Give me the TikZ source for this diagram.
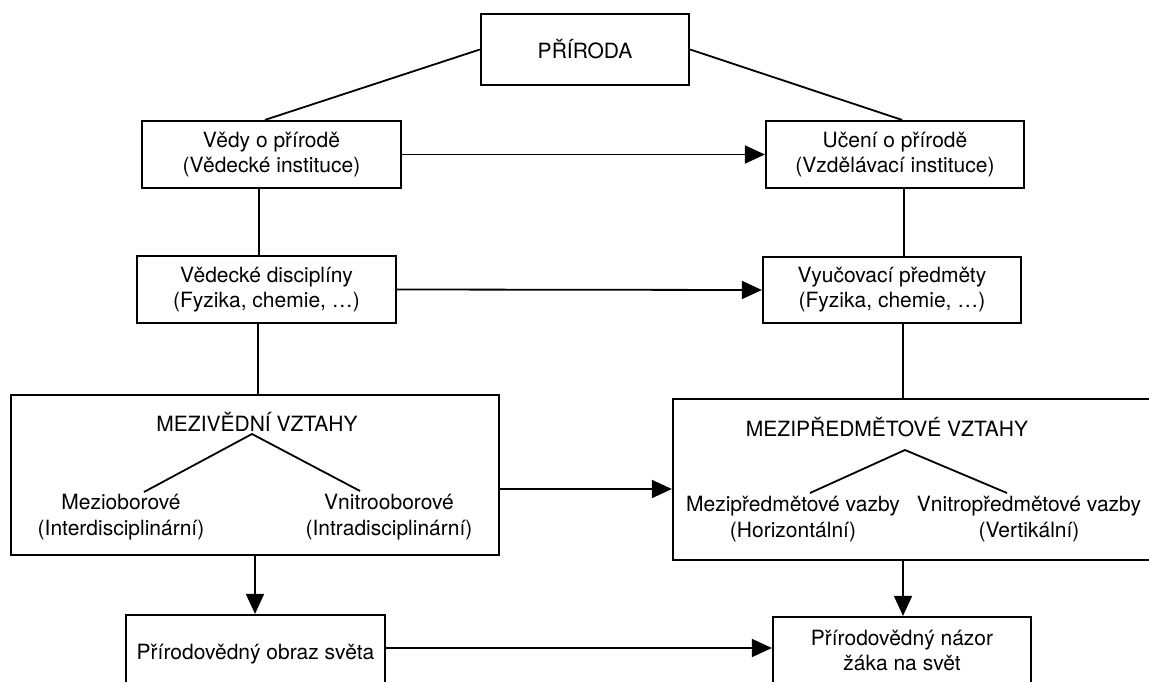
\documentclass[tikz,border=0pt]{standalone}
\usepackage{fontspec}
\setmainfont{TeX Gyre Heros}
\usetikzlibrary{arrows.meta}
\tikzset{
  box/.style={draw, line width=2.2pt, inner sep=0pt, align=center, font=\fontsize{21}{25}\selectfont},
  lbl/.style={inner sep=0pt, align=center, font=\fontsize{21}{26}\selectfont},
  conn/.style={line width=1.8pt},
  arr/.style={line width=1.8pt, -{Triangle[length=20pt,width=18pt]}}
}
\begin{document}
\begin{tikzpicture}[x=1pt,y=-1pt]
\path[use as bounding box] (0,0) rectangle (1149,682);
\clip (0,0) rectangle (1149,682);
\fill[white] (0,0) rectangle (1149,682);

% top boxes
\node[box, minimum width=208pt, minimum height=71pt] (priroda) at (585,49.5) {PŘÍRODA};
\node[box, minimum width=259pt, minimum height=67pt] (vedy) at (271.5,154.5) {Vědy o přírodě\\(Vědecké instituce)};
\node[box, minimum width=258pt, minimum height=67pt] (uceni) at (895,154.5) {Učení o přírodě\\(Vzdělávací instituce)};
\node[box, minimum width=259pt, minimum height=67pt] (disc) at (266.5,289.5) {Vědecké disciplíny\\(Fyzika, chemie, …)};
\node[box, minimum width=258pt, minimum height=66pt] (predm) at (892,290) {Vyučovací předměty\\(Fyzika, chemie, …)};

% large boxes
\node[box, minimum width=488pt, minimum height=160pt] (mezived) at (255,475) {};
\node[box, minimum width=487pt, minimum height=161pt] (mezipr) at (916.5,479.5) {};

\node[lbl] (mvtitle) at (257,422) {MEZIVĚDNÍ VZTAHY};
\node[lbl] (mezio) at (121,517.5) {Mezioborové\\(Interdisciplinární)};
\node[lbl] (vnitro) at (389,517.5) {Vnitrooborové\\(Intradisciplinární)};
\coordinate (apexL) at (252,434);
\coordinate (legLl) at (144,492);
\coordinate (legLr) at (360,491);
\draw[conn] (legLl) -- (apexL) -- (legLr);

\node[lbl] (mptitle) at (887,427) {MEZIPŘEDMĚTOVÉ VZTAHY};
\node[lbl] (mpvaz) at (793,519.5) {Mezipředmětové vazby\\(Horizontální)};
\node[lbl] (vpvaz) at (1029,519.5) {Vnitropředmětové vazby\\(Vertikální)};
\coordinate (apexR) at (905,450);
\coordinate (legRl) at (810,493);
\coordinate (legRr) at (1007,493);
\draw[conn] (legRl) -- (apexR) -- (legRr);

% bottom boxes
\node[box, minimum width=259pt, minimum height=78pt] (obraz) at (255.5,654) {Přírodovědný obraz světa};
\node[box, minimum width=258pt, minimum height=67pt] (nazor) at (902,650.5) {Přírodovědný názor\\žáka na svět};

% connectors
\draw[conn] (priroda.west) -- ([xshift=-6.5pt]vedy.north);
\draw[conn] (priroda.east) -- ([xshift=7pt]uceni.north);
\draw[arr] (vedy.east) -- (uceni.west);
\draw[arr] (disc.east) -- (predm.west);
\draw[conn] ([xshift=-12.5pt]vedy.south) -- ([xshift=-7.5pt]disc.north);
\draw[conn] ([xshift=9pt]uceni.south) -- ([xshift=12pt]predm.north);
\draw[conn] ([xshift=-8.5pt]disc.south) -- ([xshift=3pt]mezived.north);
\draw[conn] ([xshift=11pt]predm.south) -- ([xshift=-13.5pt]mezipr.north);
\draw[arr] ([yshift=-14pt]mezived.east) -- ([yshift=-14pt]mezived.east -| mezipr.west);
\draw[arr] (mezived.south) -- (mezived.south |- obraz.north);
\draw[arr] ([xshift=-13.5pt]mezipr.south) -- ([xshift=-13.5pt]mezipr.south |- nazor.north);
\draw[arr] ([yshift=6pt]obraz.east) -- ([yshift=6pt]obraz.east -| nazor.west);
\end{tikzpicture}
\end{document}
